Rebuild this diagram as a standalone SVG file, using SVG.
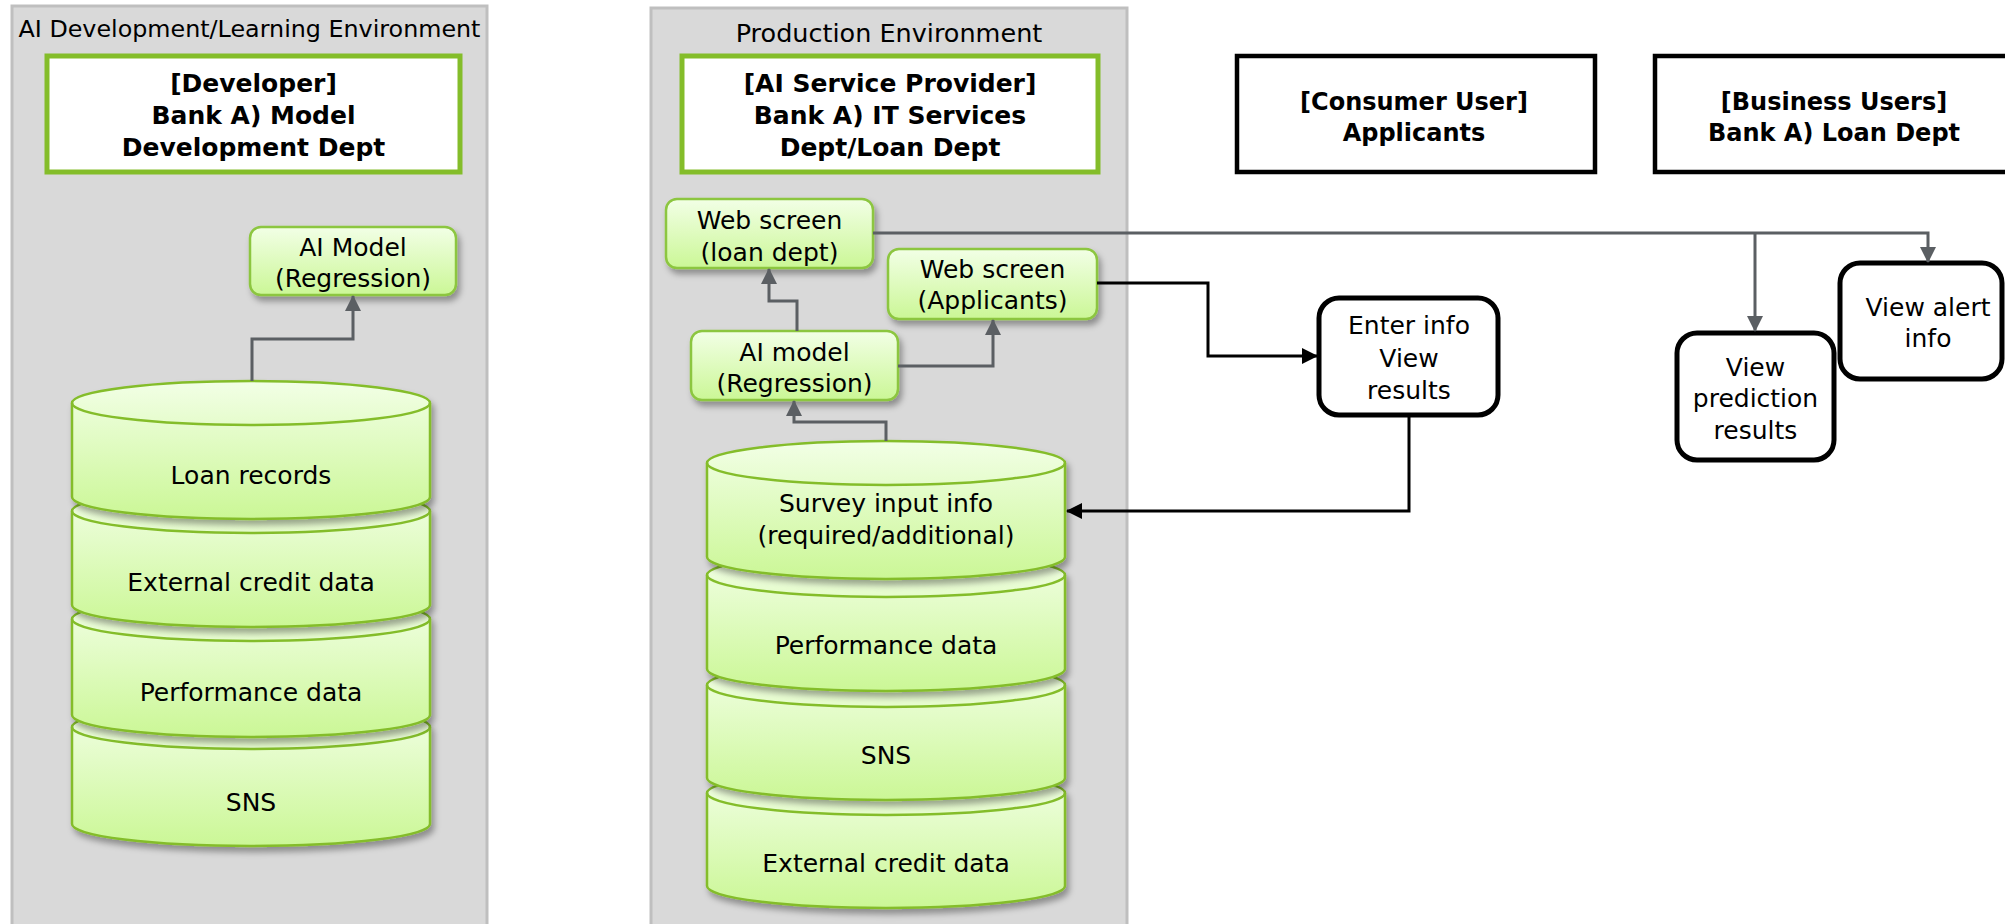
<svg xmlns="http://www.w3.org/2000/svg" width="2005" height="924" viewBox="0 0 2005 924">
<style>
.panel{fill:#d9d9d9;stroke:#bfbfbf;stroke-width:3}
.ptitle{font-family:"DejaVu Sans",sans-serif;font-size:23.8px;fill:#000;text-anchor:middle}
.ptitle2{font-family:"DejaVu Sans",sans-serif;font-size:25.5px;fill:#000;text-anchor:middle}
.hdr{fill:#fff;stroke:#84bd2a;stroke-width:5}
.hdrb{fill:#fff;stroke:#000;stroke-width:4.5}
.bt{font-family:"DejaVu Sans",sans-serif;font-size:25px;font-weight:bold;fill:#000;text-anchor:middle}
.bt2{font-family:"DejaVu Sans",sans-serif;font-size:24px;font-weight:bold;fill:#000;text-anchor:middle}
.t{font-family:"DejaVu Sans",sans-serif;font-size:25px;fill:#000;text-anchor:middle}
.gbox{fill:url(#gg);stroke:#8cc63f;stroke-width:2.5;filter:url(#sh)}
.cyl{fill:url(#gg);stroke:#84bd2a;stroke-width:2.5}
.cylsh{filter:url(#sh)}
.lid{fill:none;stroke:#84bd2a;stroke-width:2.5}
.wbox{fill:#fff;stroke:#000;stroke-width:5}
.gc{fill:none;stroke:#5b5f63;stroke-width:3;marker-end:url(#ag)}
.bc{fill:none;stroke:#000;stroke-width:3;marker-end:url(#ab)}
</style>
<defs>
<linearGradient id="gg" x1="0" y1="0" x2="0" y2="1">
<stop offset="0" stop-color="#f2ffe6"/>
<stop offset="1" stop-color="#cbf796"/>
</linearGradient>
<filter id="sh" x="-10%" y="-10%" width="125%" height="140%">
<feDropShadow dx="3" dy="5" stdDeviation="3" flood-color="#000" flood-opacity="0.35"/>
</filter>
<marker id="ag" markerUnits="userSpaceOnUse" markerWidth="16" markerHeight="16" refX="15" refY="8" orient="auto">
<path d="M0,0 L16,8 L0,16 z" fill="#5b5f63"/>
</marker>
<marker id="ab" markerUnits="userSpaceOnUse" markerWidth="16" markerHeight="16" refX="15" refY="8" orient="auto">
<path d="M0,0 L16,8 L0,16 z" fill="#000"/>
</marker>
</defs>
<rect width="2005" height="924" fill="#fff"/>

<g id="panel-dev">
<rect class="panel" x="12" y="6" width="475" height="940"/>
<text class="ptitle" x="249.5" y="37">AI Development/Learning Environment</text>
</g>
<g id="panel-prod">
<rect class="panel" x="651" y="8" width="476" height="940"/>
<text class="ptitle2" x="889" y="42">Production Environment</text>
</g>

<g id="developer">
<rect class="hdr" x="47" y="56" width="413" height="116"/>
<text class="bt" x="253.5" y="92">[Developer]</text>
<text class="bt" x="253.5" y="124">Bank A) Model</text>
<text class="bt" x="253.5" y="156">Development Dept</text>
</g>
<g id="provider">
<rect class="hdr" x="682" y="56" width="416" height="116"/>
<text class="bt" x="890" y="92">[AI Service Provider]</text>
<text class="bt" x="890" y="124">Bank A) IT Services</text>
<text class="bt" x="890" y="156">Dept/Loan Dept</text>
</g>
<g id="consumer">
<rect class="hdrb" x="1237" y="56" width="358" height="116"/>
<text class="bt2" x="1414" y="110">[Consumer User]</text>
<text class="bt2" x="1414" y="141">Applicants</text>
</g>
<g id="business">
<rect class="hdrb" x="1655" y="56" width="380" height="116"/>
<text class="bt2" x="1834" y="110">[Business Users]</text>
<text class="bt2" x="1834" y="141">Bank A) Loan Dept</text>
</g>

<g id="ai-model-dev">
<rect class="gbox" x="250" y="227" width="206" height="68" rx="11"/>
<text class="t" x="353" y="256">AI Model</text>
<text class="t" x="353" y="287">(Regression)</text>
</g>

<g id="db-dev">
<g class="cylsh">
<path class="cyl" d="M72,727 L72,824 A179,22 0 0 0 430,824 L430,727 A179,22 0 0 0 72,727 Z"/>
</g>
<path class="lid" d="M72,727 A179,22 0 0 0 430,727"/>
<g class="cylsh">
<path class="cyl" d="M72,619 L72,715 A179,22 0 0 0 430,715 L430,619 A179,22 0 0 0 72,619 Z"/>
</g>
<path class="lid" d="M72,619 A179,22 0 0 0 430,619"/>
<g class="cylsh">
<path class="cyl" d="M72,511 L72,605 A179,22 0 0 0 430,605 L430,511 A179,22 0 0 0 72,511 Z"/>
</g>
<path class="lid" d="M72,511 A179,22 0 0 0 430,511"/>
<g class="cylsh">
<path class="cyl" d="M72,403 L72,497 A179,22 0 0 0 430,497 L430,403 A179,22 0 0 0 72,403 Z"/>
</g>
<path class="lid" d="M72,403 A179,22 0 0 0 430,403"/>
<text class="t" x="251" y="484">Loan records</text>
<text class="t" x="251" y="591">External credit data</text>
<text class="t" x="251" y="701">Performance data</text>
<text class="t" x="251" y="811">SNS</text>
</g>

<g id="web-loan">
<rect class="gbox" x="666" y="199" width="207" height="69" rx="11"/>
<text class="t" x="769.5" y="229">Web screen</text>
<text class="t" x="769.5" y="261">(loan dept)</text>
</g>
<g id="web-applicants">
<rect class="gbox" x="888" y="249" width="209" height="70" rx="11"/>
<text class="t" x="992.5" y="278">Web screen</text>
<text class="t" x="992.5" y="309">(Applicants)</text>
</g>
<g id="ai-model-prod">
<rect class="gbox" x="691" y="331" width="207" height="69" rx="11"/>
<text class="t" x="794.5" y="361">AI model</text>
<text class="t" x="794.5" y="392">(Regression)</text>
</g>

<g id="db-prod">
<g class="cylsh">
<path class="cyl" d="M707,793 L707,886 A179,22 0 0 0 1065,886 L1065,793 A179,22 0 0 0 707,793 Z"/>
</g>
<path class="lid" d="M707,793 A179,22 0 0 0 1065,793"/>
<g class="cylsh">
<path class="cyl" d="M707,685 L707,778 A179,22 0 0 0 1065,778 L1065,685 A179,22 0 0 0 707,685 Z"/>
</g>
<path class="lid" d="M707,685 A179,22 0 0 0 1065,685"/>
<g class="cylsh">
<path class="cyl" d="M707,575 L707,669 A179,22 0 0 0 1065,669 L1065,575 A179,22 0 0 0 707,575 Z"/>
</g>
<path class="lid" d="M707,575 A179,22 0 0 0 1065,575"/>
<g class="cylsh">
<path class="cyl" d="M707,463 L707,557 A179,22 0 0 0 1065,557 L1065,463 A179,22 0 0 0 707,463 Z"/>
</g>
<path class="lid" d="M707,463 A179,22 0 0 0 1065,463"/>
<text class="t" x="886" y="512">Survey input info</text>
<text class="t" x="886" y="544">(required/additional)</text>
<text class="t" x="886" y="654">Performance data</text>
<text class="t" x="886" y="764">SNS</text>
<text class="t" x="886" y="872">External credit data</text>
</g>

<g id="enter-info">
<rect class="wbox" x="1319" y="298" width="179" height="117" rx="20"/>
<text class="t" x="1409" y="334">Enter info</text>
<text class="t" x="1409" y="367">View</text>
<text class="t" x="1409" y="399">results</text>
</g>
<g id="view-prediction">
<rect class="wbox" x="1677" y="333" width="157" height="127" rx="20"/>
<text class="t" x="1755.5" y="376">View</text>
<text class="t" x="1755.5" y="407">prediction</text>
<text class="t" x="1755.5" y="439">results</text>
</g>
<g id="view-alert">
<rect class="wbox" x="1840" y="263" width="162" height="116" rx="20"/>
<text class="t" x="1928" y="316">View alert</text>
<text class="t" x="1928" y="347">info</text>
</g>

<g id="connectors">
<path class="gc" d="M252,381 V339 H353 V296"/>
<path class="gc" d="M886,441 V422 H794 V401"/>
<path class="gc" d="M797,331 V301 H769 V269"/>
<path class="gc" d="M898,366 H993 V320"/>
<path class="gc" d="M873,233 H1928 V262"/>
<path class="gc" d="M1755,233 V331"/>
<path class="bc" d="M1097,283 H1208 V356 H1317"/>
<path class="bc" d="M1409,415 V511 H1067"/>
</g>
</svg>
